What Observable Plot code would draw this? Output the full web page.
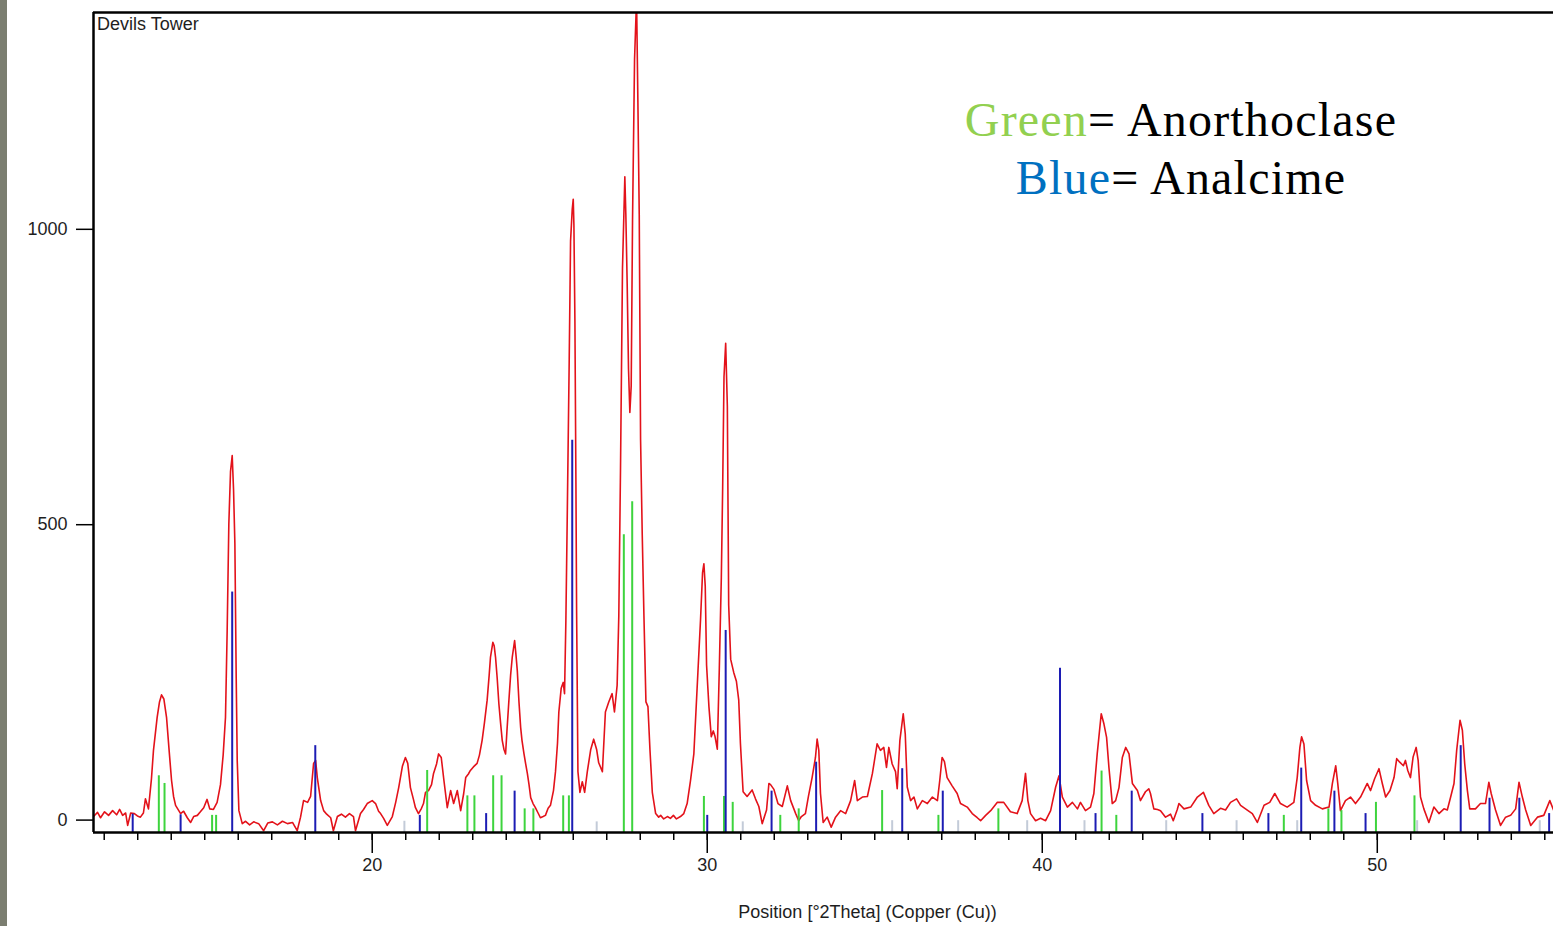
<!DOCTYPE html>
<html>
<head>
<meta charset="utf-8">
<script src="https://cdn.jsdelivr.net/npm/d3@7"></script>
<script src="https://cdn.jsdelivr.net/npm/@observablehq/plot@0.6"></script>
<style>
html, body { margin: 0; padding: 0; background: #fff; overflow: hidden; }
#wrap { position: relative; width: 1553px; height: 926px; }
#chart { position: absolute; left: 0; top: 0; }
#strip { position: absolute; left: 0; top: 0; width: 7px; height: 926px; background: #7b7e70; }
.t { position: absolute; font-family: "Liberation Sans", Arial, sans-serif; font-size: 18px; line-height: 18px; color: #1e1e1e; white-space: nowrap; }
#legend { position: absolute; left: 881px; top: 91px; width: 600px; text-align: center; font-family: "Liberation Serif", serif; font-size: 48px; line-height: 58px; letter-spacing: 1.2px; color: #000; }
</style>
</head>
<body>
<div id="wrap">
  <div id="chart"></div>
  <div id="strip"></div>
  <div class="t" style="left:97px; top:15px;">Devils Tower</div>
  <div class="t" style="left:0; top:903px; width:1735px; text-align:center;">Position [°2Theta] (Copper (Cu))</div>
  <div id="legend">
    <div><span style="color:#92d050">Green</span>= Anorthoclase</div>
    <div><span style="color:#0070c0">Blue</span>= Analcime</div>
  </div>
</div>
<script>
// ---- Measured scan (position °2θ, counts) ----
const scanTheta = [
11.68,11.80,11.89,12.01,12.13,12.25,12.37,12.46,12.55,12.64,12.70,12.79,12.90,12.99,13.08,13.17,13.23,13.32,13.41,13.47,
13.58,13.65,13.71,13.78,13.86,13.93,14.01,14.07,14.13,14.28,14.37,14.48,14.58,14.67,14.78,14.87,14.97,15.07,15.15,15.26,
15.37,15.47,15.55,15.62,15.67,15.72,15.77,15.82,15.86,15.90,15.94,15.97,16.02,16.12,16.22,16.34,16.46,16.61,16.76,16.88,
17.02,17.17,17.32,17.47,17.62,17.76,17.86,17.95,18.07,18.16,18.25,18.31,18.36,18.46,18.55,18.64,18.76,18.84,18.96,19.08,
19.20,19.32,19.44,19.50,19.65,19.74,19.85,20.00,20.10,20.19,20.25,20.34,20.45,20.60,20.70,20.79,20.90,20.99,21.06,21.14,
21.23,21.29,21.38,21.47,21.53,21.59,21.68,21.77,21.83,21.92,21.98,22.06,22.14,22.24,22.34,22.43,22.54,22.64,22.73,22.79,
22.87,22.93,23.02,23.13,23.20,23.28,23.35,23.43,23.49,23.53,23.60,23.64,23.68,23.73,23.78,23.83,23.88,23.93,23.98,24.02,
24.08,24.13,24.18,24.25,24.29,24.33,24.38,24.43,24.47,24.53,24.58,24.63,24.68,24.73,24.80,24.87,24.95,25.02,25.10,25.17,
25.25,25.32,25.41,25.47,25.53,25.57,25.64,25.70,25.74,25.78,25.82,25.88,25.92,25.97,26.00,26.02,26.05,26.08,26.10,26.14,
26.20,26.27,26.34,26.42,26.52,26.61,26.70,26.76,26.87,26.96,27.06,27.16,27.23,27.31,27.36,27.41,27.47,27.54,27.57,27.61,
27.65,27.69,27.73,27.77,27.83,27.89,27.93,27.97,28.01,28.06,28.11,28.17,28.23,28.29,28.36,28.46,28.55,28.61,28.70,28.81,
28.90,28.99,29.08,29.20,29.30,29.40,29.50,29.60,29.72,29.80,29.86,29.90,29.94,29.98,30.05,30.12,30.18,30.23,30.30,30.36,
30.42,30.46,30.50,30.55,30.60,30.64,30.70,30.79,30.87,30.94,30.99,31.07,31.19,31.34,31.44,31.54,31.64,31.77,31.84,31.89,
31.99,32.11,32.24,32.39,32.49,32.64,32.73,32.81,32.93,33.02,33.13,33.23,33.28,33.33,33.38,33.46,33.58,33.70,33.83,33.98,
34.13,34.28,34.40,34.48,34.63,34.78,34.93,35.07,35.17,35.27,35.35,35.42,35.52,35.62,35.67,35.75,35.85,35.91,35.97,36.07,
36.17,36.27,36.42,36.57,36.72,36.87,36.94,37.01,37.08,37.16,37.31,37.46,37.56,37.76,37.91,38.06,38.16,38.31,38.46,38.66,
38.85,39.05,39.25,39.40,39.50,39.57,39.65,39.80,39.95,40.10,40.25,40.40,40.50,40.60,40.75,40.90,41.05,41.14,41.29,41.44,
41.54,41.64,41.76,41.84,41.92,41.99,42.09,42.19,42.29,42.39,42.49,42.59,42.69,42.84,42.93,43.08,43.18,43.23,43.33,43.44,
43.53,43.68,43.83,43.91,44.03,44.08,44.23,44.43,44.63,44.81,44.97,45.12,45.32,45.47,45.62,45.80,45.92,46.12,46.27,46.42,
46.62,46.79,46.94,47.11,47.31,47.51,47.61,47.69,47.74,47.81,47.89,48.01,48.16,48.36,48.56,48.66,48.76,48.82,48.90,49.05,
49.20,49.35,49.50,49.70,49.80,49.92,50.05,50.15,50.25,50.38,50.50,50.58,50.67,50.78,50.84,50.91,50.99,51.07,51.16,51.22,
51.29,51.39,51.54,51.69,51.84,51.99,52.09,52.19,52.29,52.37,52.47,52.54,52.61,52.69,52.76,52.93,53.08,53.23,53.33,53.40,
53.53,53.68,53.83,53.98,54.13,54.23,54.33,54.43,54.58,54.78,54.97,55.15,55.26
];
const scanCounts = [
6,13,4,14,8,16,9,18,8,12,-9,12,11,7,5,12,36,19,70,118,
174,200,212,205,174,123,67,40,25,11,15,4,-4,6,8,14,21,35,19,18,
30,60,110,174,321,502,590,617,560,468,240,101,16,-6,-2,-8,-3,-6,-18,-5,
-3,-8,-2,-6,-4,-18,5,33,30,40,96,101,72,33,16,10,4,-18,6,10,
5,11,6,-18,11,18,28,33,28,15,11,3,-9,6,30,55,91,106,96,55,
35,21,11,20,28,47,50,60,79,95,112,106,67,21,50,28,50,16,45,72,
78,84,90,96,110,135,165,203,245,276,301,295,276,240,197,165,135,120,112,150,
203,245,276,304,280,253,200,157,135,112,95,79,60,38,28,21,12,4,6,8,
20,25,50,82,130,183,223,233,214,337,509,780,980,1034,1051,1007,843,572,355,82,
47,65,47,82,119,137,119,97,82,183,200,214,183,228,346,590,934,1089,1025,907,
763,690,735,1016,1288,1390,1215,1025,644,482,346,200,192,119,47,11,5,8,2,6,
3,8,2,6,11,28,67,112,249,340,419,434,396,262,192,141,151,142,120,256,
410,562,750,807,700,364,272,250,235,203,130,48,40,51,36,23,-6,17,62,60,
52,28,23,58,33,11,-1,6,11,40,72,106,137,118,45,-4,5,-12,5,16,
11,33,67,33,39,40,79,129,118,123,89,123,95,82,53,135,180,146,56,33,
39,19,33,28,39,33,67,106,99,72,58,45,28,22,11,4,-1,8,16,30,
30,14,11,33,79,33,11,-1,3,-1,16,56,75,39,22,30,19,30,16,22,
45,112,180,163,140,89,28,33,55,106,123,112,62,50,33,48,53,45,19,18,
16,5,10,-1,18,28,19,22,39,47,25,11,20,17,30,36,25,17,11,-4,
25,30,45,28,22,30,72,123,141,129,67,33,25,19,22,62,92,62,16,33,
39,28,39,62,50,70,87,62,39,50,72,104,98,92,101,84,72,107,123,101,
39,19,-4,22,11,19,17,39,62,118,169,152,95,50,19,19,28,28,64,45,
17,-9,5,8,19,64,39,17,-9,5,8,33,17
];

// ---- Reference patterns (stick positions °2θ and heights in counts) ----
const analcimeTheta  = [12.85,14.28,15.82,18.30,21.42,23.40,24.25,25.97,30.00,30.55,31.92,33.25,35.82,37.03,40.53,41.59,42.67,44.78,46.75,47.73,48.72,49.65,52.49,53.35,54.24,55.13];
const analcimeHeight = [10,9,386,126,8,11,49,643,8,321,49,98,87,49,257,11,49,11,11,88,49,11,126,37,37,11];

const anorthoclaseTheta  = [13.63,13.80,15.22,15.34,21.64,22.84,23.05,23.61,23.86,24.55,24.81,25.70,25.87,27.51,27.76,29.90,30.50,30.76,32.18,32.73,35.22,36.90,38.69,41.77,42.21,47.21,48.54,48.93,49.96,51.11];
const anorthoclaseHeight = [75,62,8,8,84,41,41,75,75,19,19,41,41,483,539,40,40,30,8,19,50,8,19,83,8,8,19,16,30,41];

const otherTheta  = [20.96,26.70,31.06,35.52,37.49,39.55,41.26,43.70,45.80,47.61,51.19,54.85];
const otherHeight = [-2,-3,-3,-1,-1,-1,-1,-1,-1,-1,-1,-1];

// ---- Axes ----
const xMin = 11.68, xMax = 55.26;
const yMin = -21, yMax = 1367;
const xMajorTicks = [20, 30, 40, 50];
const xMinorTicks = [12,13,14,15,16,17,18,19,20,21,22,23,24,25,26,27,28,29,30,31,32,33,34,35,36,37,38,39,40,41,42,43,44,45,46,47,48,49,50,51,52,53,54,55];
const yTicks = [0, 500, 1000];

const scan = scanTheta.map((t, i) => ({t, c: scanCounts[i]}));
const analcime = analcimeTheta.map((t, i) => ({t, h: analcimeHeight[i]}));
const anorthoclase = anorthoclaseTheta.map((t, i) => ({t, h: anorthoclaseHeight[i]}));
const other = otherTheta.map((t, i) => ({t, h: otherHeight[i]}));

const chart = Plot.plot({
  width: 1553,
  height: 926,
  marginLeft: 93,
  marginRight: 0,
  marginTop: 12,
  marginBottom: 94,
  x: {domain: [xMin, xMax]},
  y: {domain: [yMin, yMax]},
  style: {background: "transparent", fontFamily: '"Liberation Sans", Arial, sans-serif', fontSize: "18px", color: "#1e1e1e", overflow: "visible"},
  marks: [
    Plot.line(scan, {x: "t", y: "c", stroke: "#e3121a", strokeWidth: 1.6, clip: true}),
    Plot.ruleX(other, {x: "t", y1: () => yMin, y2: "h", stroke: "#c3cbd8", strokeWidth: 2}),
    Plot.ruleX(anorthoclase, {x: "t", y1: () => yMin, y2: "h", stroke: "#3dd43d", strokeWidth: 2}),
    Plot.ruleX(analcime, {x: "t", y1: () => yMin, y2: "h", stroke: "#1c1cb4", strokeWidth: 2}),
    Plot.axisX({ticks: xMinorTicks, tickSize: 8, text: null, label: null, stroke: "#000", strokeWidth: 1.5}),
    Plot.axisX({ticks: xMajorTicks, tickSize: 21, tickPadding: 5, tickFormat: "d", label: null, stroke: "#000", strokeWidth: 1.5}),
    Plot.axisY({ticks: yTicks, tickSize: 17, tickPadding: 9, tickFormat: "d", label: null, stroke: "#000", strokeWidth: 1.5}),
    Plot.ruleY([yMax], {stroke: "#000", strokeWidth: 2.5}),
    Plot.ruleY([yMin], {stroke: "#000", strokeWidth: 2.5}),
    Plot.ruleX([xMin], {stroke: "#000", strokeWidth: 2.5})
  ]
});
document.getElementById("chart").appendChild(chart);
</script>
</body>
</html>
